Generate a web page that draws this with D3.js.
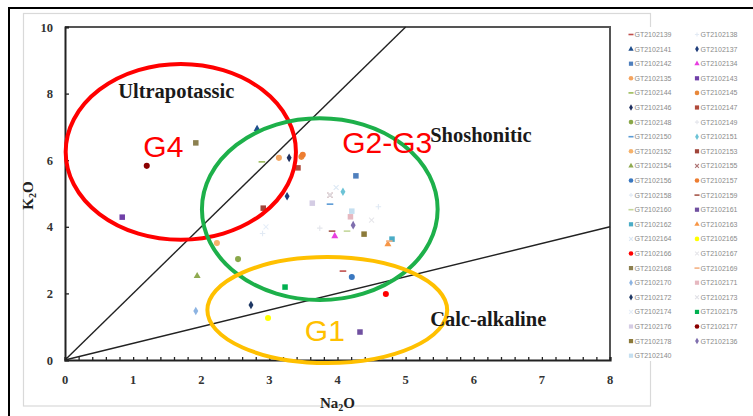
<!DOCTYPE html>
<html>
<head>
<meta charset="utf-8">
<script src="https://cdn.jsdelivr.net/npm/d3@7"></script>
<style>
  html, body { margin: 0; padding: 0; background: #fff; }
  svg { display: block; }
</style>
</head>
<body>
<svg id="chart" width="753" height="416"></svg>
<script>
// ---------------- DATA ----------------
const sampleNames = [
  "GT2102139","GT2102138","GT2102141","GT2102137","GT2102142","GT2102134",
  "GT2102135","GT2102143","GT2102144","GT2102145","GT2102146","GT2102147",
  "GT2102148","GT2102149","GT2102150","GT2102151","GT2102152","GT2102153",
  "GT2102154","GT2102155","GT2102156","GT2102157","GT2102158","GT2102159",
  "GT2102160","GT2102161","GT2102162","GT2102163","GT2102164","GT2102165",
  "GT2102166","GT2102167","GT2102168","GT2102169","GT2102170","GT2102171",
  "GT2102172","GT2102173","GT2102174","GT2102175","GT2102176","GT2102177",
  "GT2102178","GT2102136","GT2102140"
];
const na2o = [
  4.08, 2.90, 2.82, 3.26, 4.27, 3.96,
  3.14, 0.84, 2.89, 3.47, 3.29, 3.42,
  2.54, 3.74, 3.89, 4.08, 2.23, 2.91,
  1.94, 3.89, 4.21, 3.49, 4.60, 3.92,
  4.14, 4.33, 4.80, 4.74, 3.98, 2.98,
  4.71, 4.50, 1.92, 4.76, 1.92, 4.19,
  2.73, 3.89, 2.95, 3.23, 3.63, 1.20,
  4.39, 4.23, 4.21
];
const k2o = [
  2.67, 3.80, 6.94, 4.92, 5.53, 3.72,
  6.07, 4.29, 5.95, 6.10, 6.07, 5.77,
  3.03, 3.96, 4.68, 5.05, 3.51, 4.56,
  2.52, 4.95, 2.49, 6.16, 4.60, 3.87,
  3.87, 0.84, 3.63, 3.48, 5.18, 1.26,
  1.98, 4.20, 6.52, 3.57, 1.47, 4.30,
  1.65, 4.95, 4.00, 2.19, 4.71, 5.83,
  3.78, 4.05, 4.47
];
// legend / marker appearance per sample (same order as sampleNames)
const markerShapes = [
  "dash","plus","triangle","diamond","square","triangle",
  "circle","square","dash","circle","diamond","square",
  "circle","plus","dash","diamond","circle","square",
  "triangle","cross","circle","circle","plus","dash",
  "dash","square","square","triangle","cross","circle",
  "circle","cross","square","dash","diamond","square",
  "diamond","cross","cross","square","square","circle",
  "square","diamond","square"
];
const markerColors = [
  "#c0504d","#e2eaf4","#1f4e8c","#1f3d7a","#4f7fbd","#e83ee0",
  "#f4a460","#7040a8","#9bbb59","#e8883a","#1f2f5f","#b04a3a",
  "#8aa84a","#e4e6ec","#5b9bd5","#6cc3d6","#f6b26b","#a0453a",
  "#8faa50","#b07878","#3a78c0","#ed7d31","#e0e9f4","#a5574a",
  "#c4d79b","#7050a0","#4bacc6","#f79646","#dce8f4","#ffff00",
  "#ff0000","#e6e6ea","#8c8050","#f4b183","#8db4e2","#e6b8c0",
  "#1f3864","#e0e0e6","#e6eef8","#00b050","#d4cce4","#8b0000",
  "#8c7a3a","#7f6fae","#c5dff0"
];

const xTicks = [0,1,2,3,4,5,6,7,8];
const yTicks = [0,2,4,6,8,10];
const xMinorStep = 0.2;

// discrimination lines (K2O = slope * Na2O)
const lineSlopes = [2, 0.5];

// group ellipses: [cx, cy, rx, ry] in data units
const groupNames = ["G4", "G2-G3", "G1"];
const groupEllipses = [
  [1.70, 6.25, 1.69, 2.64],
  [3.74, 4.53, 1.73, 2.73],
  [3.85, 1.50, 1.76, 1.59]
];
const groupColors = ["#ff0000", "#1db04a", "#ffc000"];
const groupLabelColors = ["#ff0000", "#ff0000", "#ffc000"];
const groupLabelPos = [[1.15, 6.10], [4.07, 6.22], [3.52, 0.57]];

const fieldNames = ["Ultrapotassic", "Shoshonitic", "Calc-alkaline"];
const fieldLabelPos = [[0.78, 7.87], [5.36, 6.55], [5.36, 1.02]];

// ---------------- DRAW ----------------
const svg = d3.select("#chart");
const W = 753, H = 416;
const x = d3.scaleLinear().domain([0, 8]).range([65, 610]);
const y = d3.scaleLinear().domain([0, 10]).range([360, 27]);

// outer frames
svg.append("rect").attr("x", 0).attr("y", 0).attr("width", W).attr("height", H).attr("fill", "#fff");
svg.append("rect").attr("x", 23.5).attr("y", 13.5).attr("width", 627).attr("height", 392.5)
  .attr("fill", "none").attr("stroke", "#d9d9d9").attr("stroke-width", 1.2);
svg.append("line").attr("x1", 9).attr("x2", 9).attr("y1", 7).attr("y2", H)
  .attr("stroke", "#000").attr("stroke-width", 2);
svg.append("line").attr("x1", 8).attr("x2", W).attr("y1", 8).attr("y2", 8)
  .attr("stroke", "#000").attr("stroke-width", 2);

// plot frame top/right
svg.append("path")
  .attr("d", `M${x(0)},${y(10)}H${x(8)}V${y(0)}`)
  .attr("fill", "none").attr("stroke", "#555").attr("stroke-width", 2);

// discrimination lines
const lineG = svg.append("g");
lineSlopes.forEach(s => {
  const xEnd = Math.min(8, 10 / s);
  lineG.append("line")
    .attr("x1", x(0)).attr("y1", y(0))
    .attr("x2", x(xEnd)).attr("y2", y(s * xEnd))
    .attr("stroke", "#222").attr("stroke-width", 1.4);
});

// axes
const xAxis = d3.axisBottom(x).tickValues(d3.range(0, 8.0001, xMinorStep))
  .tickSize(-3).tickFormat("");
const gx = svg.append("g").attr("transform", `translate(0,${y(0)})`).call(xAxis);
gx.select(".domain").attr("stroke", "#222").attr("stroke-width", 2.2);
gx.selectAll(".tick line").attr("stroke", "#222").attr("stroke-width", 1.3);

const yAxis = d3.axisLeft(y).tickValues(yTicks).tickSize(-4).tickFormat("");
const gy = svg.append("g").attr("transform", `translate(${x(0)},0)`).call(yAxis);
gy.select(".domain").attr("stroke", "#222").attr("stroke-width", 2);
gy.selectAll(".tick line").attr("stroke", "#222").attr("stroke-width", 1.3);

const tickFont = "'Liberation Serif', 'Times New Roman', serif";
svg.append("g").selectAll("text").data(xTicks).join("text")
  .attr("x", d => x(d)).attr("y", 384)
  .attr("text-anchor", "middle")
  .attr("font-family", tickFont).attr("font-weight", "bold").attr("font-size", 12.5)
  .attr("fill", "#333").text(d => d);
svg.append("g").selectAll("text").data(yTicks).join("text")
  .attr("x", 53).attr("y", d => y(d) + 4.5)
  .attr("text-anchor", "end")
  .attr("font-family", tickFont).attr("font-weight", "bold").attr("font-size", 12.5)
  .attr("fill", "#333").text(d => d);

// axis titles
const xt = svg.append("text").attr("x", (x(0) + x(8)) / 2).attr("y", 408)
  .attr("text-anchor", "middle").attr("font-family", tickFont)
  .attr("font-weight", "bold").attr("font-size", 15).attr("fill", "#222");
xt.append("tspan").text("Na");
xt.append("tspan").attr("font-size", 10).attr("dy", 3).text("2");
xt.append("tspan").attr("dy", -3).text("O");

const yt = svg.append("text")
  .attr("transform", `translate(33,${(y(0) + y(10)) / 2 + 2}) rotate(-90)`)
  .attr("text-anchor", "middle").attr("font-family", tickFont)
  .attr("font-weight", "bold").attr("font-size", 15).attr("fill", "#222");
yt.append("tspan").text("K");
yt.append("tspan").attr("font-size", 10).attr("dy", 3).text("2");
yt.append("tspan").attr("dy", -3).text("O");

// marker drawing
function drawMarker(g, shape, color, cx, cy, s) {
  if (shape === "circle") {
    g.append("circle").attr("cx", cx).attr("cy", cy).attr("r", s * 0.55).attr("fill", color);
  } else if (shape === "square") {
    g.append("rect").attr("x", cx - s * 0.5).attr("y", cy - s * 0.5)
      .attr("width", s).attr("height", s).attr("fill", color);
  } else if (shape === "diamond") {
    g.append("path").attr("d", d3.symbol(d3.symbolDiamond, s * s * 0.7)()).attr("transform", `translate(${cx},${cy})`).attr("fill", color);
  } else if (shape === "triangle") {
    g.append("path").attr("d", d3.symbol(d3.symbolTriangle, s * s * 0.7)()).attr("transform", `translate(${cx},${cy})`).attr("fill", color);
  } else if (shape === "dash") {
    g.append("line").attr("x1", cx - s * 0.6).attr("x2", cx + s * 0.6).attr("y1", cy).attr("y2", cy)
      .attr("stroke", color).attr("stroke-width", 1.6);
  } else if (shape === "plus") {
    g.append("path").attr("d", `M${cx - s * 0.5},${cy}H${cx + s * 0.5}M${cx},${cy - s * 0.5}V${cy + s * 0.5}`)
      .attr("stroke", color).attr("stroke-width", 1.1);
  } else if (shape === "cross") {
    const h = s * 0.45;
    g.append("path").attr("d", `M${cx - h},${cy - h}L${cx + h},${cy + h}M${cx - h},${cy + h}L${cx + h},${cy - h}`)
      .attr("stroke", color).attr("stroke-width", 1.1);
  }
}

// points
const ptsG = svg.append("g");
sampleNames.forEach((n, i) => {
  drawMarker(ptsG, markerShapes[i], markerColors[i], x(na2o[i]), y(k2o[i]), 5.5);
});

// ellipses
const ellG = svg.append("g");
groupEllipses.forEach((e, i) => {
  ellG.append("ellipse")
    .attr("cx", x(e[0])).attr("cy", y(e[1]))
    .attr("rx", x(e[0] + e[2]) - x(e[0]))
    .attr("ry", y(e[1] - e[3]) - y(e[1]))
    .attr("fill", "none").attr("stroke", groupColors[i]).attr("stroke-width", 4);
});

// field labels
fieldNames.forEach((t, i) => {
  svg.append("text").attr("x", x(fieldLabelPos[i][0])).attr("y", y(fieldLabelPos[i][1]))
    .attr("font-family", tickFont).attr("font-weight", "bold").attr("font-size", 20.5)
    .attr("fill", "#1a1a1a").text(t);
});
// group labels
groupNames.forEach((t, i) => {
  svg.append("text").attr("x", x(groupLabelPos[i][0])).attr("y", y(groupLabelPos[i][1]))
    .attr("font-family", "'Liberation Sans', Arial, sans-serif").attr("font-size", 30)
    .attr("fill", groupLabelColors[i]).text(t);
});

// legend
svg.append("rect").attr("x", 614).attr("y", 27).attr("width", W - 614).attr("height", 334).attr("fill", "#fff");
const legG = svg.append("g");
const rowH = 14.6, row0 = 34.5;
sampleNames.forEach((n, i) => {
  const col = i % 2, row = Math.floor(i / 2);
  const mx = col === 0 ? 631 : 697;
  const my = row0 + row * rowH;
  drawMarker(legG, markerShapes[i], markerColors[i], mx, my, 4.2);
  legG.append("text").attr("x", mx + 3.5).attr("y", my + 2.5)
    .attr("font-family", "'Liberation Sans', Arial, sans-serif").attr("font-size", 7)
    .attr("fill", "#8a8a8a").text(n);
});
</script>
</body>
</html>
